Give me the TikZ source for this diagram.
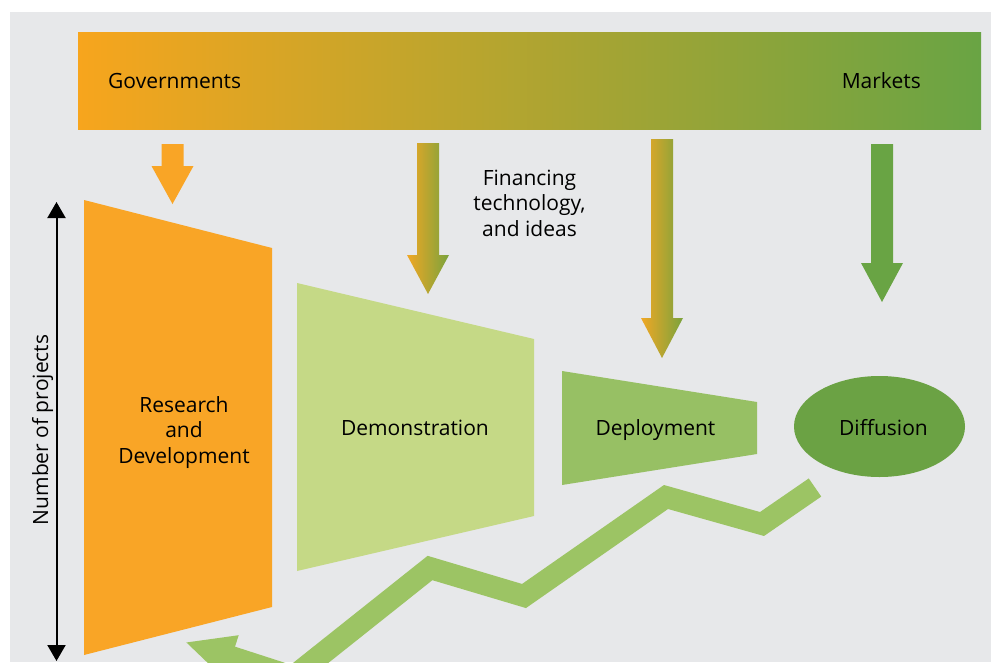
\documentclass[tikz,border=0pt]{standalone}
\usepackage{fontspec}
\setmainfont{Open Sans}
\usepackage{xcolor}
\usetikzlibrary{arrows.meta, positioning, shapes.geometric}
\definecolor{panel}{HTML}{E7E8EA}
\definecolor{govt}{HTML}{F7A51D}
\definecolor{midbar}{HTML}{C4A630}
\definecolor{mkt}{HTML}{69A444}
\definecolor{rnd}{HTML}{F9A526}
\definecolor{demo}{HTML}{C5D986}
\definecolor{depl}{HTML}{97C064}
\definecolor{diff}{HTML}{6BA244}
\definecolor{zig}{HTML}{9CC464}
\definecolor{fino}{HTML}{F0A725}
\definecolor{fing}{HTML}{7AA33D}

\begin{document}
\begin{tikzpicture}[x=1pt, y=-1pt, font=\fontsize{21}{25.5}\selectfont,
  lbl/.style={align=center, inner sep=0pt},
  orangearrow/.style={fill=rnd},
  mixarrow/.style={left color=fino, right color=fing},
  greenarrow/.style={fill=mkt},
  zigline/.style={draw=zig, line width=22pt, line join=miter, -{Triangle[length=49pt, width=42pt]}},
  axis/.style={line width=2pt, {Triangle[length=16pt, width=18pt]}-{Triangle[length=16pt, width=18pt]}}]
  \useasboundingbox (0,0) rectangle (991,662);
  \clip (0,0) rectangle (991,662);
  \fill[white] (0,0) rectangle (991,662);
  \fill[panel] (10,12) rectangle (991,662);
  % top bar
  \node[minimum width=903pt, minimum height=97pt, inner sep=0pt, left color=govt, middle color=midbar, right color=mkt] (bar) at (529.5,80.5) {};
  \node[lbl, anchor=base west] (gov) at (108,88) {Governments};
  \node[lbl, anchor=base east] (mk) at (921,88) {Markets};
  % flows from the bar
  \foreach \x/\t/\n/\e/\s in {172.5/144/166/204/orangearrow, 428/143/255/294/mixarrow, 662/139/318/358/mixarrow, 882/144/263/302/greenarrow}
    \path[\s] ({\x-11},\t) -- ({\x+11},\t) -- ({\x+11},\n) -- ({\x+21},\n) -- (\x,\e) -- ({\x-21},\n) -- ({\x-11},\n) -- cycle;
  \node[lbl] (fin) at (529.5,203) {Financing\\technology,\\and ideas};
  % stages
  \fill[rnd]  (84,200) -- (272,248) -- (272,607) -- (84,655) -- cycle;
  \fill[demo] (297,283) -- (534,339) -- (534,516) -- (297,571) -- cycle;
  \fill[depl] (562,371) -- (757,402) -- (757,454) -- (562,485) -- cycle;
  \node[lbl] (rd) at (184,432.5) {Research\\and\\Development};
  \node[lbl, anchor=base] (dm) at (415,435.5) {Demonstration};
  \node[lbl, anchor=base] (dp) at (655.5,435.5) {Deployment};
  \node[ellipse, fill=diff, minimum width=171pt, minimum height=101pt, inner sep=0pt] (df) at (879.5,426.5) {};
  \node[lbl, anchor=base] (dft) at (883.5,435.5) {Diffusion};
  % return path
  \coordinate (z0) at (815,487.5);
  \coordinate (z1) at (762,524);
  \coordinate (z2) at (666,497);
  \coordinate (z3) at (524,596);
  \coordinate (z4) at (430,568);
  \coordinate (z5) at (293,677);
  \coordinate (z6) at (185,642);
  \draw[zigline] (z0) -- (z1) -- (z2) -- (z3) -- (z4) -- (z5) -- (z6);
  % axis
  \coordinate (ytop) at (56.5,202);
  \coordinate (ybot) at (56.5,661);
  \draw[axis] (ybot) -- (ytop);
  \node[lbl, rotate=90] (ylab) at (42.5,430) {Number of projects};
\end{tikzpicture}
\end{document}
